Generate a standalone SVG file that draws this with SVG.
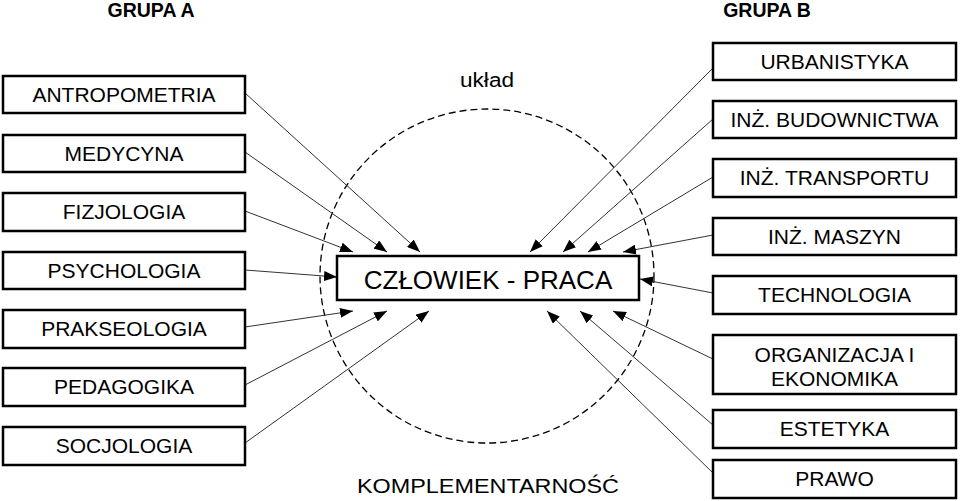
<svg xmlns="http://www.w3.org/2000/svg" width="960" height="501" viewBox="0 0 960 501">
<defs>
<marker id="arr" markerUnits="userSpaceOnUse" markerWidth="14" markerHeight="10" refX="13" refY="5" orient="auto">
<path d="M0,0 L13,5 L0,10 z" fill="#000"/>
</marker>
<style>
.box{fill:#fff;stroke:#000;stroke-width:2.5}
.t{font-family:"Liberation Sans",Arial,sans-serif;font-size:21px;text-anchor:middle;fill:#000}
.h{font-family:"Liberation Sans",Arial,sans-serif;font-size:19.5px;font-weight:bold;text-anchor:middle;fill:#000}
.c{stroke:#333;stroke-width:1;fill:none;marker-end:url(#arr)}
</style>
</defs>
<rect width="960" height="501" fill="#fff"/>
<text class="h" x="151" y="17">GRUPA A</text>
<text class="h" x="767" y="17">GRUPA B</text>
<circle cx="487" cy="276" r="167" fill="none" stroke="#000" stroke-width="1.3" stroke-dasharray="7 4"/>
<text class="t" x="487" y="87" style="font-size:20px" textLength="54" lengthAdjust="spacingAndGlyphs">układ</text>
<text class="t" x="488" y="493" style="font-size:20px" textLength="262" lengthAdjust="spacingAndGlyphs">KOMPLEMENTARNOŚĆ</text>
<g id="connectors">
<line class="c" x1="245" y1="93" x2="420" y2="252"/>
<line class="c" x1="245" y1="152" x2="387" y2="252"/>
<line class="c" x1="245" y1="211" x2="353" y2="252"/>
<line class="c" x1="245" y1="270" x2="337" y2="277"/>
<line class="c" x1="245" y1="327" x2="353" y2="311"/>
<line class="c" x1="245" y1="385" x2="387" y2="311"/>
<line class="c" x1="245" y1="443" x2="429" y2="311"/>
<line class="c" x1="713" y1="68" x2="530" y2="252"/>
<line class="c" x1="713" y1="119" x2="563" y2="252"/>
<line class="c" x1="713" y1="177" x2="588" y2="252"/>
<line class="c" x1="713" y1="235" x2="623" y2="252"/>
<line class="c" x1="713" y1="293" x2="640" y2="279"/>
<line class="c" x1="713" y1="359" x2="613" y2="311"/>
<line class="c" x1="713" y1="425" x2="580" y2="311"/>
<line class="c" x1="713" y1="473" x2="547" y2="311"/>
</g>
<g id="center"><rect class="box" x="337" y="256" width="302" height="44"/><text class="t" x="488" y="289" style="font-size:26px">CZŁOWIEK - PRACA</text></g>
<g id="antropometria"><rect class="box" x="3" y="76" width="242" height="37"/><text class="t" x="124" y="102">ANTROPOMETRIA</text></g>
<g id="medycyna"><rect class="box" x="3" y="135" width="242" height="37"/><text class="t" x="124" y="161">MEDYCYNA</text></g>
<g id="fizjologia"><rect class="box" x="3" y="193" width="242" height="38"/><text class="t" x="124" y="219">FIZJOLOGIA</text></g>
<g id="psychologia"><rect class="box" x="3" y="252" width="242" height="37"/><text class="t" x="124" y="278">PSYCHOLOGIA</text></g>
<g id="prakseologia"><rect class="box" x="3" y="310" width="242" height="38"/><text class="t" x="124" y="336">PRAKSEOLOGIA</text></g>
<g id="pedagogika"><rect class="box" x="3" y="368" width="242" height="38"/><text class="t" x="124" y="394">PEDAGOGIKA</text></g>
<g id="socjologia"><rect class="box" x="3" y="427" width="242" height="38"/><text class="t" x="124" y="453">SOCJOLOGIA</text></g>
<g id="urbanistyka"><rect class="box" x="713" y="43" width="243" height="37"/><text class="t" x="834.5" y="69">URBANISTYKA</text></g>
<g id="budownictwa"><rect class="box" x="713" y="101" width="243" height="37"/><text class="t" x="834.5" y="127">INŻ. BUDOWNICTWA</text></g>
<g id="transportu"><rect class="box" x="713" y="159" width="243" height="38"/><text class="t" x="834.5" y="185">INŻ. TRANSPORTU</text></g>
<g id="maszyn"><rect class="box" x="713" y="218" width="243" height="37"/><text class="t" x="834.5" y="244">INŻ. MASZYN</text></g>
<g id="technologia"><rect class="box" x="713" y="276" width="243" height="38"/><text class="t" x="834.5" y="302">TECHNOLOGIA</text></g>
<g id="organizacja"><rect class="box" x="713" y="335" width="243" height="59"/><text class="t" x="834.5" y="362">ORGANIZACJA I</text><text class="t" x="834.5" y="386">EKONOMIKA</text></g>
<g id="estetyka"><rect class="box" x="713" y="410" width="243" height="38"/><text class="t" x="834.5" y="436">ESTETYKA</text></g>
<g id="prawo"><rect class="box" x="713" y="460" width="243" height="38"/><text class="t" x="834.5" y="486">PRAWO</text></g>
</svg>
